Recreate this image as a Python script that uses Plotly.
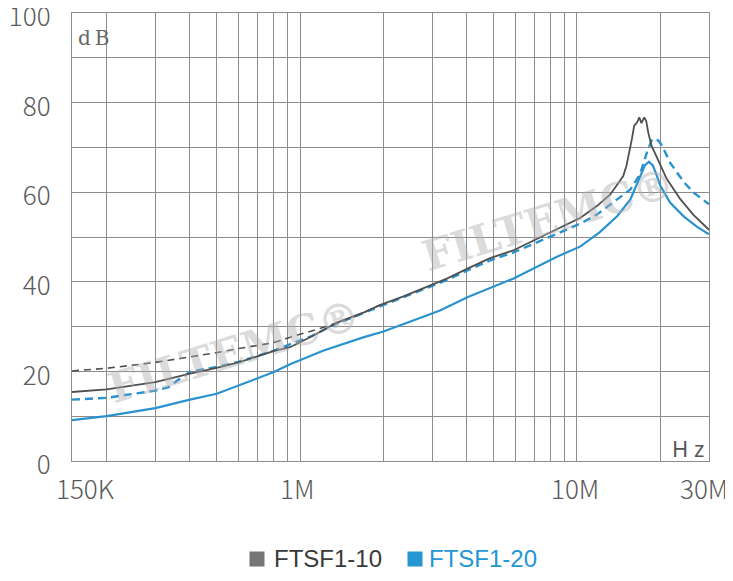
import plotly.graph_objects as go
import math

# Frequencies in MHz, levels in dB
f10_solid = [0.15, 0.2, 0.3, 0.4, 0.5, 0.6, 0.8, 0.92, 1.1, 1.36, 1.69, 1.94, 2.35, 3.39, 4.04, 4.86,
             5.88, 8.0, 10.3, 11.8, 13.2, 14.7, 15.1, 15.8, 16.1, 16.5, 16.8, 17.1, 17.5, 17.8, 18.1,
             18.6, 19.4, 21.1, 23.6, 26.3, 30]
db10_solid = [15.4, 16.0, 17.6, 19.5, 20.8, 22.0, 24.5, 25.4, 27.8, 30.9, 33.1, 34.8, 36.7, 40.7, 43.0, 45.3,
              47.0, 51.1, 54.3, 56.9, 59.5, 63.6, 65.9, 71.9, 74.8, 75.6, 76.7, 75.4, 76.7, 75.9, 73.3,
              70.4, 67.8, 63.0, 58.5, 55.0, 51.6]

f10_dash = [0.15, 0.2, 0.3, 0.4, 0.5, 0.6, 0.8, 0.92, 1.1, 1.21, 1.59, 1.69, 1.94]
db10_dash = [20.1, 20.7, 22.0, 23.2, 24.2, 25.1, 26.4, 27.6, 29.0, 29.8, 32.3, 33.1, 34.8]

f20_solid = [0.15, 0.2, 0.3, 0.4, 0.5, 0.6, 0.8, 0.92, 1.21, 1.69, 2.0, 2.71, 3.2, 4.04, 5.88, 8.47,
             10.3, 12.1, 14.0, 15.6, 16.9, 17.6, 18.2, 18.8, 19.4, 20.0, 21.7, 24.3, 27.1, 30]
db20_solid = [9.1, 10.0, 11.8, 13.7, 15.0, 16.8, 19.8, 21.6, 24.6, 27.6, 28.9, 31.9, 33.6, 36.6, 40.7, 45.6,
              47.9, 51.1, 54.7, 58.4, 63.2, 66.0, 66.8, 66.0, 63.8, 61.5, 57.7, 54.6, 52.3, 50.6]

f20_dash = [0.15, 0.2, 0.3, 0.335, 0.374, 0.4, 0.5, 0.6, 0.8, 1.1, 1.36, 1.69, 1.94, 3.39, 4.04, 4.86,
            5.88, 8.0, 10.3, 11.8, 13.2, 15.6, 16.9, 17.9, 18.6, 19.2, 19.7, 20.3, 21.7, 24.3, 26.3, 30]
db20_dash = [13.7, 14.1, 15.7, 16.5, 18.7, 19.9, 21.0, 22.1, 24.6, 27.9, 30.7, 33.0, 34.4, 40.4, 42.6, 44.8,
             46.5, 50.0, 53.0, 55.0, 57.3, 60.6, 64.0, 68.9, 71.5, 72.0, 71.5, 70.4, 66.6, 62.3, 60.0, 57.3]

series_names = ["FTSF1-10", "FTSF1-20"]
x_grid = [0.2, 0.3, 0.4, 0.5, 0.6, 0.7, 0.8, 0.9, 1, 2, 3, 4, 5, 6, 7, 8, 9, 10, 20, 30]
x_labels = ["150K", "1M", "10M", "30M"]
x_label_vals = [0.15, 1, 10, 30]
y_ticks = [0, 10, 20, 30, 40, 50, 60, 70, 80, 90, 100]
y_labels = ["0", "", "20", "", "40", "", "60", "", "80", "", "100"]

GRAY = "#4f4f4f"
BLUE = "#2a92cf"
LEG_GRAY = "#767676"
LEG_BLUE = "#2496d4"
LABEL_FONT = "Noto Sans CJK SC"

fig = go.Figure()
fig.add_trace(go.Scatter(x=f10_dash, y=db10_dash, mode="lines", showlegend=False,
                         line=dict(color=GRAY, width=1.6, dash="7px,5px")))
fig.add_trace(go.Scatter(x=f20_dash, y=db20_dash, mode="lines", showlegend=False,
                         line=dict(color=BLUE, width=2.4, dash="8px,5px")))
fig.add_trace(go.Scatter(x=f10_solid, y=db10_solid, mode="lines", showlegend=False,
                         line=dict(color=GRAY, width=1.8)))
fig.add_trace(go.Scatter(x=f20_solid, y=db20_solid, mode="lines", showlegend=False,
                         line=dict(color=BLUE, width=2.2)))

annotations = []
# watermarks
for px, py in [(0.255, 0.244), (0.748, 0.54)]:
    annotations.append(dict(x=px, y=py, xref="paper", yref="paper", text="FILTEMC®", showarrow=False,
                            xanchor="center", yanchor="middle", textangle=-17, opacity=0.45,
                            font=dict(family="DejaVu Serif", size=42, color="#b0b0b0", weight="bold")))

shifts = [13, -3, -2, -5]
for v, t, s in zip(x_label_vals, x_labels, shifts):
    annotations.append(dict(x=math.log10(v), y=-0.06, xref="x", yref="paper", text=t, showarrow=False,
                            xanchor="center", yanchor="middle", xshift=s,
                            font=dict(family=LABEL_FONT, size=26, color="#5a5a5a", weight=300)))
annotations.append(dict(x=0.006, y=0.975, xref="paper", yref="paper", text="d\u2009B", showarrow=False,
                        xanchor="left", yanchor="top",
                        font=dict(family="DejaVu Serif", size=20, color="#666666")))
annotations.append(dict(x=0.995, y=-0.008, xref="paper", yref="paper", text="H z", showarrow=False,
                        xanchor="right", yanchor="bottom",
                        font=dict(family="Noto Sans", size=22, color="#555555")))

# legend (squares + names)
leg_y = -0.2185
for sx, tx, name, sq_col, txt_col in [(0.2904, 0.3155, series_names[0], LEG_GRAY, "#3a3a3a"),
                                      (0.5377, 0.5589, series_names[1], LEG_BLUE, LEG_BLUE)]:
    annotations.append(dict(x=sx, y=leg_y, xref="paper", yref="paper", text=" ", showarrow=False,
                            xanchor="center", yanchor="middle", width=14, height=14, borderpad=0,
                            bgcolor=sq_col, font=dict(size=10)))
    annotations.append(dict(x=tx, y=leg_y, xref="paper", yref="paper", text=name, showarrow=False,
                            xanchor="left", yanchor="middle", borderpad=0,
                            font=dict(family="Liberation Sans", size=24, color=txt_col)))

fig.update_layout(
    width=725, height=573,
    margin=dict(l=64, r=24, t=5, b=120, autoexpand=False),
    paper_bgcolor="white", plot_bgcolor="white",
    showlegend=False,
    annotations=annotations,
    xaxis=dict(type="log", range=[math.log10(0.15), math.log10(30)], tickvals=x_grid,
               showticklabels=False, showgrid=True, gridcolor="#8c8c8c", gridwidth=1.4,
               showline=True, linecolor="#8c8c8c", linewidth=1.4, mirror=True, zeroline=False,
               ticks="", automargin=False),
    yaxis=dict(range=[0, 100.0001], tickvals=y_ticks, ticktext=y_labels, showgrid=True,
               gridcolor="#8c8c8c", gridwidth=1.4, showline=True, linecolor="#8c8c8c", linewidth=1.4,
               mirror=True, zeroline=False, ticks="", ticklabelstandoff=15, ticklabeloverflow="allow",
               ticklabelshift=4, automargin=False,
               tickfont=dict(family=LABEL_FONT, size=26, color="#5a5a5a", weight=300)),
)

fig.write_html("out.html")
